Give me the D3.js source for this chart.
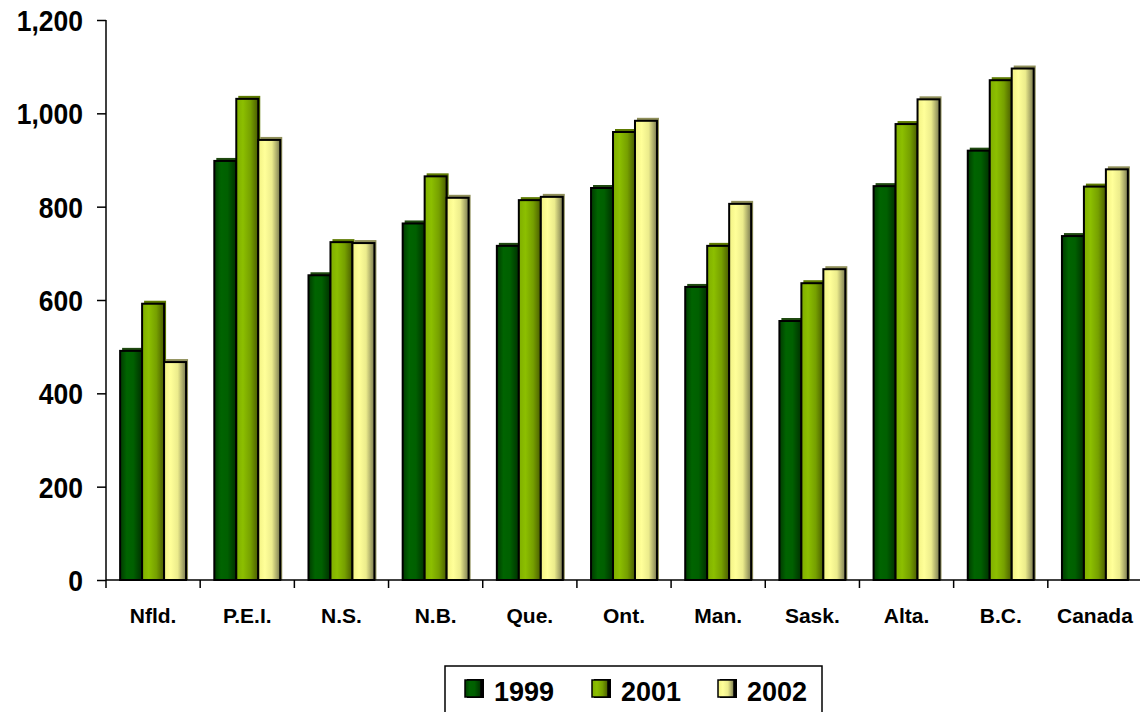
<!DOCTYPE html>
<html>
<head>
<meta charset="utf-8">
<script src="https://cdn.jsdelivr.net/npm/d3@7"></script>
<style>
  html, body { margin: 0; padding: 0; background: #fff; }
  svg { display: block; }
  text { font-family: "Liberation Sans", Arial, Helvetica, sans-serif; font-weight: bold; fill: #000; }
</style>
</head>
<body>
<svg id="chart" width="1140" height="712"></svg>
<script>
// Provinces and the national total along the x axis
const categories = ["Nfld.", "P.E.I.", "N.S.", "N.B.", "Que.", "Ont.", "Man.", "Sask.", "Alta.", "B.C.", "Canada"];
const years = ["1999", "2001", "2002"];

// One value per category for each year
const values1999 = [491, 898, 653, 764, 716, 840, 628, 555, 844, 920, 737];
const values2001 = [592, 1031, 724, 865, 814, 960, 716, 636, 977, 1071, 843];
const values2002 = [467, 943, 722, 819, 821, 984, 806, 666, 1030, 1096, 880];

const yTicks = [0, 200, 400, 600, 800, 1000, 1200];

const seriesValues = { "1999": values1999, "2001": values2001, "2002": values2002 };

// Fill gradients (left to right) and the darker top/side shade for each year
const gradientStops = {
  "1999": [["0%", "#003a00"], ["30%", "#006400"], ["60%", "#006000"], ["100%", "#003000"]],
  "2001": [["0%", "#7fae00"], ["30%", "#8cbf00"], ["65%", "#76a000"], ["100%", "#4a5c00"]],
  "2002": [["0%", "#f2f284"], ["30%", "#ffff99"], ["62%", "#ecec8c"], ["100%", "#7a7a50"]]
};
const shadeColor = { "1999": "#1f4a10", "2001": "#5d7a00", "2002": "#8f8f5a" };

const svg = d3.select("#chart");
const defs = svg.append("defs");
years.forEach(yr => {
  const g = defs.append("linearGradient")
    .attr("id", "grad" + yr)
    .attr("x1", "0%").attr("x2", "100%").attr("y1", "0%").attr("y2", "0%");
  gradientStops[yr].forEach(([o, c]) => g.append("stop").attr("offset", o).attr("stop-color", c));
});

const x = d3.scaleBand().domain(categories).range([106, 1142]).paddingInner(0).paddingOuter(0);
const xSub = d3.scaleBand().domain(years)
  .range([x.bandwidth() * 0.15, x.bandwidth() * 0.85]).padding(0);
const y = d3.scaleLinear().domain([0, 1200]).range([580, 20]);

// Bars, drawn year by year
const groups = svg.append("g").selectAll("g")
  .data(categories)
  .join("g")
  .attr("transform", d => `translate(${x(d)},0)`);

years.forEach(yr => {
  groups.each(function (cat, i) {
    const v = seriesValues[yr][i];
    const g = d3.select(this);
    const bx = xSub(yr), bw = xSub.bandwidth();
    // shaded back face gives the raised look
    g.append("rect")
      .attr("x", bx + 2).attr("y", y(v) - 3)
      .attr("width", bw).attr("height", y(0) - y(v) + 3)
      .attr("fill", shadeColor[yr]);
    g.append("rect")
      .attr("x", bx).attr("y", y(v))
      .attr("width", bw).attr("height", y(0) - y(v))
      .attr("fill", `url(#grad${yr})`)
      .attr("stroke", "#000").attr("stroke-width", 2);
  });
});

// Y axis
const yAxis = svg.append("g")
  .attr("transform", "translate(106,0)")
  .call(d3.axisLeft(y).tickValues(yTicks).tickSize(9).tickPadding(14).tickFormat(d3.format(",")));
yAxis.select(".domain").attr("stroke", "#000").attr("stroke-width", 1.5).attr("d", "M0,20V580");
yAxis.selectAll(".tick line").attr("stroke", "#000").attr("stroke-width", 1.5);
yAxis.selectAll(".tick text")
  .style("font-size", "26.5px")
  .attr("dy", "0.36em")
  .attr("transform", "scale(1,1.1)");

// X axis with ticks between the categories
const xAxisLine = svg.append("g");
xAxisLine.append("line")
  .attr("x1", 106).attr("x2", 1140).attr("y1", y(0)).attr("y2", y(0))
  .attr("stroke", "#000").attr("stroke-width", 1.5);
xAxisLine.selectAll("line.sep")
  .data(categories)
  .join("line")
  .attr("class", "sep")
  .attr("x1", d => x(d)).attr("x2", d => x(d))
  .attr("y1", y(0)).attr("y2", y(0) + 8)
  .attr("stroke", "#000").attr("stroke-width", 1.5);
xAxisLine.selectAll("text")
  .data(categories)
  .join("text")
  .attr("x", d => x(d) + x.bandwidth() / 2)
  .attr("y", 623)
  .attr("text-anchor", "middle")
  .style("font-size", "21px")
  .text(d => d);

// Legend
const legend = svg.append("g");
legend.append("rect")
  .attr("x", 445).attr("y", 666).attr("width", 377).attr("height", 60)
  .attr("fill", "#fff").attr("stroke", "#000").attr("stroke-width", 1.5);
const legendX = { "1999": 465, "2001": 592, "2002": 718 };
years.forEach(yr => {
  const lx = legendX[yr];
  legend.append("rect")
    .attr("x", lx + 2).attr("y", 679)
    .attr("width", 17).attr("height", 19)
    .attr("fill", "#000");
  legend.append("rect")
    .attr("x", lx).attr("y", 680)
    .attr("width", 16).attr("height", 17)
    .attr("fill", `url(#grad${yr})`)
    .attr("stroke", "#000").attr("stroke-width", 1.5);
  legend.append("text")
    .attr("x", lx + 29).attr("y", 701)
    .style("font-size", "27px")
    .text(yr);
});
</script>
</body>
</html>
